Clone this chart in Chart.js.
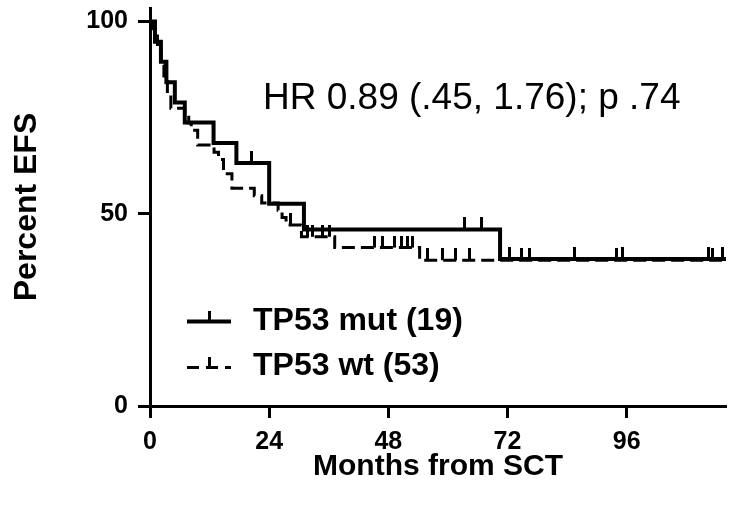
<!DOCTYPE html>
<html lang="en">
<head>
  <meta charset="UTF-8" />
  <title>EFS by TP53</title>
  <script src="https://cdn.jsdelivr.net/npm/chart.js"></script>
  <style>
    body { margin: 0; background: #fff; }
  </style>
</head>
<body>
  <canvas id="kmChart" width="732" height="506"></canvas>

  <script>
    // step times (months) and survival (%)
    const mutTimes = [0, 1.0, 2.2, 3.3, 5.0, 7.0, 12.8, 17.4, 24.0, 31.0, 70.5, 116];
    const mutSurv  = [100, 94.7, 89.5, 84.2, 78.9, 73.7, 68.4, 63.2, 52.6, 45.9, 38.2, 38.2];
    const mutCensor = [20.4, 63.3, 66.7, 72.4, 85.5, 95.2, 112.4, 115.2];

    const wtTimes = [0, 0.5, 1.0, 1.5, 2.2, 2.8, 3.5, 4.2, 7.0, 7.8, 8.3, 9.6, 12.9, 13.8, 14.8, 16.5,
                     21.0, 22.5, 25.8, 26.6, 27.4, 30.5, 37.2, 54.3, 116];
    const wtSurv  = [100, 98.1, 96.2, 92.5, 88.7, 84.9, 81.1, 77.4, 75.5, 73.6, 71.7, 67.9, 66.0, 64.1, 60.4, 56.6,
                     54.7, 52.8, 50.9, 49.0, 47.1, 44.0, 41.2, 37.9, 37.9];
    const wtCensor = [28.2, 31.8, 32.8, 34.8, 36.2, 45.2, 46.9, 49.2, 50.6, 51.9, 52.9,
                      55.9, 59.0, 61.6, 64.3, 74.9, 76.5, 94.0, 113.2];

    const xTicks = [0, 24, 48, 72, 96];
    const yTicks = [0, 50, 100];

    const FONT = "'Liberation Sans', Arial, sans-serif";

    function survAt(times, surv, t) {
      let s = surv[0];
      for (let i = 0; i < times.length; i++) {
        if (times[i] <= t) s = surv[i];
      }
      return s;
    }

    // small upward tick used as the censor mark
    function censorMark(w, len) {
      const c = document.createElement('canvas');
      c.width = w;
      c.height = len * 2;
      const g = c.getContext('2d');
      g.fillStyle = '#000';
      g.fillRect(0, 0, w, len);
      return c;
    }

    const extras = {
      id: 'extras',
      afterDraw(chart) {
        const ctx = chart.ctx;
        ctx.save();
        ctx.fillStyle = '#000';
        ctx.strokeStyle = '#000';

        // hazard ratio note
        ctx.font = `37px ${FONT}`;
        ctx.textBaseline = 'alphabetic';
        ctx.textAlign = 'left';
        ctx.fillText('HR 0.89 (.45, 1.76); p .74', 263, 109);

        // legend
        ctx.lineWidth = 4;
        ctx.beginPath();
        ctx.moveTo(187, 321.5);
        ctx.lineTo(231, 321.5);
        ctx.stroke();
        ctx.fillRect(208, 311, 3, 10);

        ctx.lineWidth = 3;
        ctx.setLineDash([12, 7]);
        ctx.beginPath();
        ctx.moveTo(187, 367.5);
        ctx.lineTo(231, 367.5);
        ctx.stroke();
        ctx.setLineDash([]);
        ctx.fillRect(208, 357, 3, 10);

        ctx.font = `bold 32px ${FONT}`;
        ctx.fillText('TP53 mut (19)', 253, 330);
        ctx.fillText('TP53 wt (53)', 253, 375);
        ctx.restore();
      }
    };

    const axisCommon = {
      grid: { drawOnChartArea: false, tickLength: 12, tickWidth: 3, tickColor: '#000' },
      border: { color: '#000', width: 3 }
    };

    new Chart(document.getElementById('kmChart'), {
      type: 'line',
      data: {
        datasets: [
          {
            label: 'TP53 mut (19)',
            data: mutTimes.map((t, i) => ({ x: t, y: mutSurv[i] })),
            stepped: 'before',
            borderColor: '#000',
            borderWidth: 4,
            pointRadius: 0,
            fill: false
          },
          {
            label: 'TP53 wt (53)',
            data: wtTimes.map((t, i) => ({ x: t, y: wtSurv[i] })),
            stepped: 'before',
            borderColor: '#000',
            borderWidth: 3,
            borderDash: [13, 6],
            pointRadius: 0,
            fill: false
          },
          {
            label: 'mut censored',
            data: mutCensor.map(t => ({ x: t, y: survAt(mutTimes, mutSurv, t) })),
            showLine: false,
            pointStyle: censorMark(3, 12),
            pointRadius: 5
          },
          {
            label: 'wt censored',
            data: wtCensor.map(t => ({ x: t, y: survAt(wtTimes, wtSurv, t) })),
            showLine: false,
            pointStyle: censorMark(3, 12),
            pointRadius: 5
          }
        ]
      },
      options: {
        responsive: false,
        animation: false,
        layout: { padding: { left: 0, right: 4, top: 8, bottom: 0 } },
        plugins: {
          legend: { display: false },
          tooltip: { enabled: false }
        },
        scales: {
          x: {
            type: 'linear',
            min: 0,
            max: 116,
            afterBuildTicks: s => { s.ticks = xTicks.map(v => ({ value: v })); },
            afterFit: s => { s.height = 100; s.paddingLeft = 0; s.paddingRight = 0; },
            ...axisCommon,
            ticks: {
              autoSkip: false, maxRotation: 0, padding: 9, color: '#000',
              font: { family: FONT, size: 25, weight: 'bold' }
            },
            title: {
              display: true, text: 'Months from SCT', color: '#000',
              font: { family: FONT, size: 30, weight: 'bold' },
              padding: { top: 0, bottom: 21 }
            }
          },
          y: {
            min: 0,
            max: 103.5,
            afterBuildTicks: s => { s.ticks = yTicks.map(v => ({ value: v })); },
            afterFit: s => { s.width = 150; s.paddingTop = 0; s.paddingBottom = 0; },
            ...axisCommon,
            ticks: {
              padding: 10, color: '#000',
              font: { family: FONT, size: 25, weight: 'bold' }
            },
            title: {
              display: true, text: 'Percent EFS', color: '#000',
              font: { family: FONT, size: 32, weight: 'bold' },
              padding: { top: 8, bottom: 0 }
            }
          }
        }
      },
      plugins: [extras]
    });
  </script>
</body>
</html>
